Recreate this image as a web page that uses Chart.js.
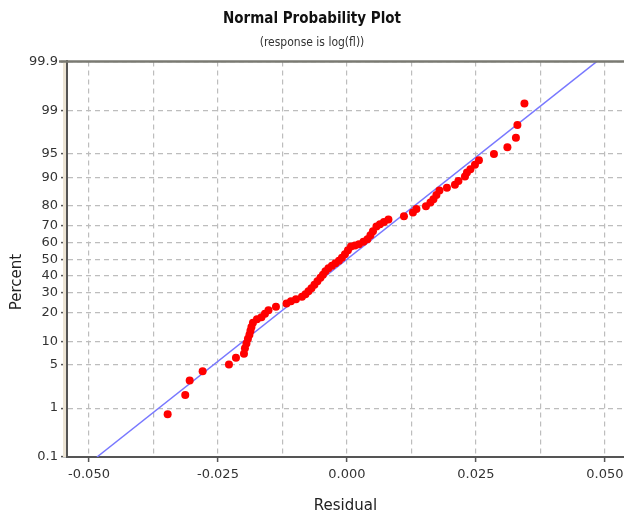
<!DOCTYPE html>
<html>
<head>
<meta charset="utf-8">
<script src="https://cdn.jsdelivr.net/npm/chart.js@4/dist/chart.umd.min.js"></script>
<style>
  html, body { margin: 0; padding: 0; background: #fff; }
  #wrap { width: 624px; height: 515px; }
</style>
</head>
<body>
<div id="wrap"><canvas id="npp" width="624" height="515"></canvas></div>
<script>
// residuals (sorted) and their plotting positions in percent
const residuals = [
  -0.03475, -0.03134, -0.03048, -0.02797, -0.02287, -0.02151, -0.01996, -0.01977, -0.01948, -0.01919,
  -0.01890, -0.01870, -0.01851, -0.01822, -0.01744, -0.01657, -0.01589, -0.01521, -0.01376, -0.01172,
  -0.01085, -0.00988, -0.00872, -0.00804, -0.00746, -0.00688, -0.00630, -0.00572, -0.00514, -0.00465,
  -0.00417, -0.00359, -0.00291, -0.00223, -0.00155, -0.00097, -0.00039, 0.00019, 0.00078, 0.00155,
  0.00233, 0.00320, 0.00397, 0.00455, 0.00504, 0.00572, 0.00640, 0.00717, 0.00804, 0.01105,
  0.01279, 0.01347, 0.01531, 0.01618, 0.01676, 0.01734, 0.01793, 0.01938, 0.02093, 0.02161,
  0.02287, 0.02326, 0.02393, 0.02481, 0.02558, 0.02849, 0.03110, 0.03275, 0.03304, 0.03440
];
const percents = [
  0.77, 1.7, 2.9, 4.0, 5.0, 6.2, 7.0, 8.2, 9.4, 10.7,
  11.9, 13.2, 14.5, 16.0, 17.4, 18.2, 19.7, 21.2, 22.9, 24.5,
  25.6, 26.6, 27.9, 29.2, 30.8, 32.5, 34.5, 36.5, 38.6, 40.4,
  42.5, 44.4, 45.9, 47.5, 49.1, 50.9, 53.1, 55.6, 57.8, 58.4,
  59.3, 60.8, 62.3, 64.6, 66.9, 69.5, 70.8, 71.9, 73.2, 74.9,
  76.7, 78.3, 79.6, 81.2, 82.6, 84.2, 85.8, 86.8, 87.8, 88.9,
  90.2, 91.2, 92.0, 93.0, 93.9, 95.0, 96.0, 97.1, 98.2, 99.25
];

// fitted normal line, end points
const fitX = [-0.04845, 0.04845];
const fitP = [0.1, 99.9];

// axes
const xTicks = [-0.05, -0.0375, -0.025, -0.0125, 0, 0.0125, 0.025, 0.0375, 0.05];
const xTickLabels = ['-0.050', '', '-0.025', '', '0.000', '', '0.025', '', '0.050'];
const yTickPercents = [0.1, 1, 5, 10, 20, 30, 40, 50, 60, 70, 80, 90, 95, 99, 99.9];
const yTickLabels = ['0.1', '1', '5', '10', '20', '30', '40', '50', '60', '70', '80', '90', '95', '99', '99.9'];

// inverse of the standard normal cdf (Acklam)
function zOf(pct) {
  const p = pct / 100;
  const a = [-39.69683028665376, 220.9460984245205, -275.9285104469687, 138.3577518672690, -30.66479806614716, 2.506628277459239];
  const b = [-54.47609879822406, 161.5858368580409, -155.6989798598866, 66.80131188771972, -13.28068155288572];
  const c = [-0.007784894002430293, -0.3223964580411365, -2.400758277161838, -2.549671010229583, 4.374664141464968, 2.938163982698783];
  const d = [0.007784695709041462, 0.3224671290700398, 2.445134137142996, 3.754408661907416];
  const lo = 0.02425;
  let q, r;
  if (p < lo) {
    q = Math.sqrt(-2 * Math.log(p));
    return (((((c[0]*q+c[1])*q+c[2])*q+c[3])*q+c[4])*q+c[5]) / ((((d[0]*q+d[1])*q+d[2])*q+d[3])*q+1);
  }
  if (p > 1 - lo) {
    q = Math.sqrt(-2 * Math.log(1 - p));
    return -(((((c[0]*q+c[1])*q+c[2])*q+c[3])*q+c[4])*q+c[5]) / ((((d[0]*q+d[1])*q+d[2])*q+d[3])*q+1);
  }
  q = p - 0.5; r = q * q;
  return (((((a[0]*r+a[1])*r+a[2])*r+a[3])*r+a[4])*r+a[5])*q / (((((b[0]*r+b[1])*r+b[2])*r+b[3])*r+b[4])*r+1);
}

const points = residuals.map((x, i) => ({ x: x, y: zOf(percents[i]) }));
const fitLine = fitX.map((x, i) => ({ x: x, y: zOf(fitP[i]) }));

const labelFont = "'DejaVu Sans', Verdana, sans-serif";
const narrowFont = "'Liberation Sans Narrow', 'DejaVu Sans Condensed', 'Arial Narrow', sans-serif";

// frame bits: top border, shaded strip by the y axis, rotated y title
const framePlugin = {
  id: 'frame',
  beforeDatasetsDraw(chart) {
    const { ctx, chartArea: a } = chart;
    ctx.save();
    ctx.fillStyle = '#ece4d4';
    ctx.fillRect(a.left - 4, a.top, 3, a.bottom - a.top);
    ctx.restore();
  },
  afterDraw(chart) {
    const { ctx, chartArea: a } = chart;
    ctx.save();
    ctx.strokeStyle = '#7a7a72';
    ctx.lineWidth = 2.5;
    ctx.beginPath();
    ctx.moveTo(a.left - 8, a.top);
    ctx.lineTo(a.right, a.top);
    ctx.stroke();
    ctx.translate(17, 282);
    ctx.rotate(-Math.PI / 2);
    ctx.fillStyle = '#222';
    ctx.font = '15px ' + labelFont;
    ctx.textAlign = 'center';
    ctx.textBaseline = 'middle';
    ctx.fillText('Percent', 0, 0);
    ctx.restore();
  }
};

new Chart(document.getElementById('npp'), {
  type: 'scatter',
  data: {
    datasets: [
      {
        label: 'Residuals',
        data: points,
        backgroundColor: '#ff0000',
        borderWidth: 0,
        pointRadius: 4,
        pointHoverRadius: 4
      },
      {
        label: 'Fit',
        data: fitLine,
        showLine: true,
        borderColor: '#7878ff',
        borderWidth: 1.5,
        pointRadius: 0,
        fill: false
      }
    ]
  },
  options: {
    responsive: false,
    animation: false,
    devicePixelRatio: 1,
    layout: { autoPadding: false, padding: 0 },
    plugins: {
      legend: { display: false },
      tooltip: { enabled: false },
      title: {
        display: true,
        text: 'Normal Probability Plot',
        color: '#111',
        font: { family: narrowFont, size: 15, weight: 'bold' },
        padding: { top: 10, bottom: 8 }
      },
      subtitle: {
        display: true,
        text: '(response is log(fl))',
        color: '#333',
        font: { family: narrowFont, size: 12 },
        padding: { top: 0, bottom: 11 }
      }
    },
    scales: {
      x: {
        type: 'linear',
        min: -0.05426,
        max: 0.0537,
        afterBuildTicks(scale) { scale.ticks = xTicks.map(v => ({ value: v })); },
        afterFit(scale) { scale.height = 58; scale.paddingLeft = 0; scale.paddingRight = 0; },
        ticks: {
          autoSkip: false,
          maxRotation: 0,
          padding: 5,
          color: '#333',
          font: { family: labelFont, size: 13 },
          callback: (v, i) => xTickLabels[i]
        },
        grid: {
          color: '#bdbdbd',
          lineWidth: 1.2,
          tickLength: 5,
          tickWidth: 1.5,
          tickBorderDash: [],
          tickColor: ctx => (xTickLabels[ctx.index] ? '#555' : 'rgba(0,0,0,0)')
        },
        border: { display: true, color: '#555', width: 2, dash: [5, 4] },
        title: {
          display: true,
          text: 'Residual',
          color: '#222',
          font: { family: labelFont, size: 15 },
          padding: { top: 2, bottom: 0 }
        }
      },
      y: {
        type: 'linear',
        min: zOf(0.1),
        max: zOf(99.9),
        afterBuildTicks(scale) { scale.ticks = yTickPercents.map(p => ({ value: zOf(p) })); },
        afterFit(scale) { scale.width = 67; scale.paddingTop = 0; scale.paddingBottom = 0; },
        ticks: {
          autoSkip: false,
          padding: 3,
          color: '#333',
          font: { family: labelFont, size: 13 },
          callback: (v, i) => yTickLabels[i]
        },
        grid: {
          color: '#bdbdbd',
          lineWidth: 1.2,
          tickLength: 6,
          tickWidth: 1.5,
          tickBorderDash: [],
          tickColor: '#555'
        },
        border: { display: true, color: '#555', width: 2, dash: [5, 4] }
      }
    }
  },
  plugins: [framePlugin]
});
</script>
</body>
</html>
